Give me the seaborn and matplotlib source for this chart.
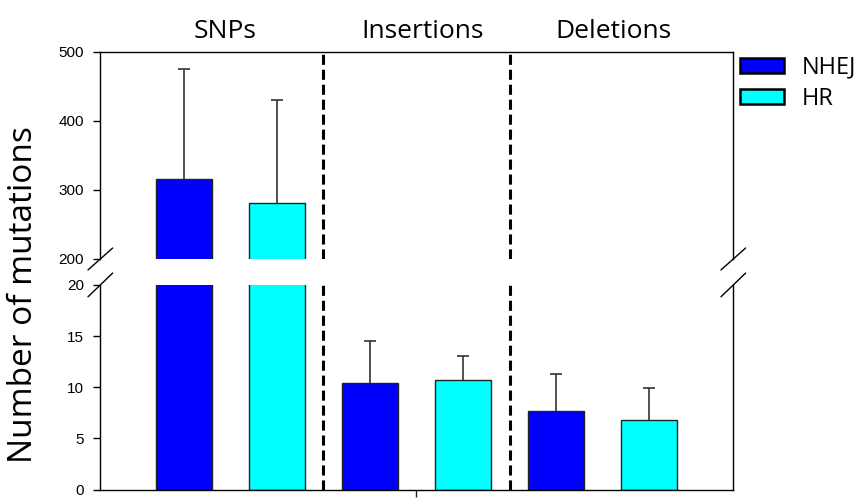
import matplotlib
matplotlib.use("Agg")
import matplotlib.pyplot as plt
import seaborn as sns
import pandas as pd

# values
categories = ["SNPs", "Insertions", "Deletions"]
groups = ["NHEJ", "HR"]
nhej_mean = [316, 10.4, 7.7]
hr_mean = [281, 10.7, 6.8]
nhej_err = [159, 4.1, 3.6]
hr_err = [150, 2.4, 3.1]
colors = {"NHEJ": "#0000ff", "HR": "#00ffff"}

df = pd.DataFrame({
    "category": categories * 2,
    "group": ["NHEJ"] * 3 + ["HR"] * 3,
    "value": nhej_mean + hr_mean,
})
errs = {"NHEJ": nhej_err, "HR": hr_err}

sns.set_style("white")
plt.rcParams["font.family"] = ["Liberation Sans", "DejaVu Sans"]
plt.rcParams["text.color"] = "black"

fig = plt.figure(figsize=(8.6, 4.99), dpi=100)
ax_top = fig.add_axes([0.1163, 0.481, 0.736, 0.415])
ax_bot = fig.add_axes([0.1163, 0.019, 0.736, 0.410])

for ax in (ax_top, ax_bot):
    sns.barplot(data=df, x="category", y="value", hue="group", order=categories,
                hue_order=groups, palette=colors, saturation=1, width=1.0, gap=0.4,
                errorbar=None, edgecolor="#222222", linewidth=1.0,
                legend=(ax is ax_top), ax=ax)
    for cont, g in zip(ax.containers, groups):
        xs = [b.get_x() + b.get_width() / 2 for b in cont]
        hs = [b.get_height() for b in cont]
        _, caps, _ = ax.errorbar(xs, hs, yerr=[[0] * len(hs), errs[g]], fmt="none",
                                 ecolor="#333333", elinewidth=1.2, capsize=4.3,
                                 capthick=1.2)
        caps[0].remove()  # upper error only
    for xv in (0.5, 1.5):
        ax.axvline(xv, color="black", lw=2.2, ls=(0, (3.3, 1.6)))
    ax.set_xlim(-0.7, 2.7)
    ax.set_xlabel("")
    ax.set_ylabel("")
    for s in ax.spines.values():
        s.set_color("black")
        s.set_linewidth(1.0)
    ax.tick_params(axis="y", direction="out", length=5, width=1, left=True, pad=6.5,
                   labelsize=11, colors="black")

ax_top.set_ylim(200, 500)
ax_top.set_yticks([200, 300, 400, 500])
ax_top.spines["bottom"].set_visible(False)
ax_top.set_xticks([])

ax_bot.set_ylim(0, 20)
ax_bot.set_yticks([0, 5, 10, 15, 20])
ax_bot.spines["top"].set_visible(False)
ax_bot.set_xticks([1])
ax_bot.set_xticklabels([""])
ax_bot.tick_params(axis="x", direction="out", length=5, width=1, bottom=True)

# axis break marks
kw = dict(color="black", lw=1.0, clip_on=False)
for xa in (0, 1):
    ax_top.plot([xa - 0.019, xa + 0.02], [-0.053, 0.053], transform=ax_top.transAxes, **kw)
    ax_bot.plot([xa - 0.019, xa + 0.02], [0.942, 1.058], transform=ax_bot.transAxes, **kw)

# group titles
shifts = [-0.027, 0.03, 0.06]
for i, c in enumerate(categories):
    ax_top.text(i + shifts[i], 1.10, c, transform=ax_top.get_xaxis_transform(),
                ha="center", va="center", fontsize=19, family="Open Sans")

fig.text(0.027, 0.409, "Number of mutations", rotation=90, ha="center", va="center",
         fontsize=24, family="Open Sans")

leg = ax_top.legend(loc="upper left", bbox_to_anchor=(1.0, 1.015), frameon=False,
                    prop={"family": "Open Sans", "size": 17}, handlelength=1.85,
                    handleheight=0.62, handletextpad=0.75, labelspacing=0.3,
                    borderpad=0.3, borderaxespad=0.0)
for h in leg.legend_handles:
    h.set_edgecolor("black")
    h.set_linewidth(1.8)

fig.savefig("out.png", dpi=100)
